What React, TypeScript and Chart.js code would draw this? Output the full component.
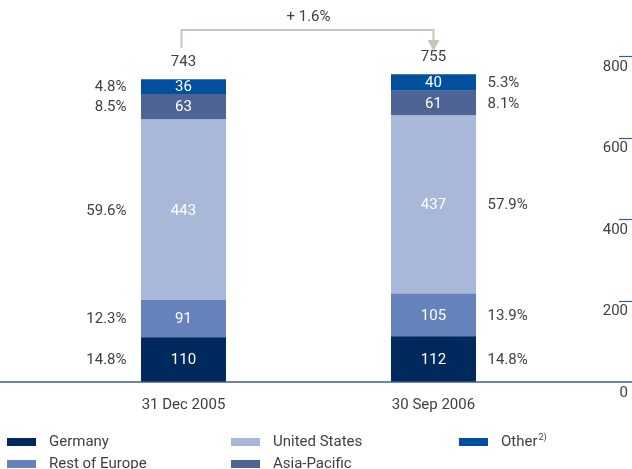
import React, { useEffect, useRef } from "react";
import { Chart, registerables } from "chart.js";

Chart.register(...registerables);

const categories = ["31 Dec 2005", "30 Sep 2006"];
const seriesNames = ["Germany", "Rest of Europe", "United States", "Asia-Pacific", "Other"];
const germany = [110, 112];
const restOfEurope = [91, 105];
const unitedStates = [443, 437];
const asiaPacific = [63, 61];
const other = [36, 40];
const pct2005 = ["14.8%", "12.3%", "59.6%", "8.5%", "4.8%"];
const pct2006 = ["14.8%", "13.9%", "57.9%", "8.1%", "5.3%"];
const totals = [743, 755];
const changeLabel = "+ 1.6%";
const yTicks = [0, 200, 400, 600, 800];

const colors = ["#002a5e", "#6682bb", "#a9b8d9", "#4d6495", "#00509e"];
const FONT = "Roboto, 'Open Sans', sans-serif";
const FS = 15;
const TEXT = "#404040";

export default function App() {
  const ref = useRef<HTMLCanvasElement>(null);
  useEffect(() => {
    document.body.style.margin = "0";
    const values = [germany, restOfEurope, unitedStates, asiaPacific, other];
    const overlay = {
      id: "overlay",
      afterDraw(chart: any) {
        const ctx = chart.ctx;
        const xs = chart.scales.x;
        const ys = chart.scales.y;
        const W = chart.width;
        ctx.save();
        const y0 = ys.getPixelForValue(0);
        ctx.strokeStyle = "#3d5b93";
        ctx.lineWidth = 1.5;
        ctx.beginPath();
        ctx.moveTo(0, y0);
        ctx.lineTo(W, y0);
        ctx.stroke();
        ctx.lineWidth = 1.2;
        yTicks.forEach((t) => {
          if (t === 0) return;
          const y = Math.round(ys.getPixelForValue(t)) + 0.5;
          ctx.beginPath();
          ctx.moveTo(619, y);
          ctx.lineTo(632, y);
          ctx.stroke();
        });
        ctx.font = `${FS}px ${FONT}`;
        ctx.textBaseline = "middle";
        for (let d = 0; d < values.length; d++) {
          const meta = chart.getDatasetMeta(d);
          meta.data.forEach((bar: any, i: number) => {
            const yc = (bar.y + bar.base) / 2;
            ctx.fillStyle = "#ffffff";
            ctx.textAlign = "center";
            ctx.fillText(String(values[d][i]), bar.x, yc + 1);
            ctx.fillStyle = TEXT;
            if (i === 0) {
              ctx.textAlign = "right";
              ctx.fillText(pct2005[d], bar.x - 57, yc + 1);
            } else {
              ctx.textAlign = "left";
              ctx.fillText(pct2006[d], bar.x + 54, yc + 1);
            }
          });
        }
        const x1 = xs.getPixelForValue(0);
        const x2 = xs.getPixelForValue(1);
        ctx.fillStyle = TEXT;
        ctx.textAlign = "center";
        totals.forEach((t, i) => {
          const y = ys.getPixelForValue(t);
          ctx.fillText(String(t), xs.getPixelForValue(i), y - 17);
        });
        ctx.strokeStyle = "#c9c5bd";
        ctx.lineWidth = 2;
        ctx.beginPath();
        ctx.moveTo(x1 - 2, 48);
        ctx.lineTo(x1 - 2, 30);
        ctx.lineTo(x2, 30);
        ctx.lineTo(x2, 42);
        ctx.stroke();
        ctx.fillStyle = "#c9c5bd";
        ctx.beginPath();
        ctx.moveTo(x2 - 6, 40);
        ctx.lineTo(x2 + 6, 40);
        ctx.lineTo(x2, 51);
        ctx.closePath();
        ctx.fill();
        ctx.fillStyle = TEXT;
        ctx.fillText(changeLabel, (x1 + x2) / 2, 17);
        const cols = [7, 231, 459];
        const rows = [442, 464];
        seriesNames.forEach((name, k) => {
          const c = Math.floor(k / 2);
          const r = k % 2;
          ctx.fillStyle = colors[k];
          ctx.fillRect(cols[c], rows[r] - 4, 29, 8);
          ctx.fillStyle = TEXT;
          ctx.textAlign = "left";
          ctx.font = `${FS}px ${FONT}`;
          ctx.fillText(name, cols[c] + 42, rows[r]);
          if (name === "Other") {
            const w = ctx.measureText(name).width;
            ctx.font = `9px ${FONT}`;
            ctx.fillText("2)", cols[c] + 42 + w + 1, rows[r] - 4);
          }
        });
        ctx.restore();
      },
    };
    const chart = new Chart(ref.current!, {
      type: "bar",
      data: {
        labels: categories,
        datasets: seriesNames.map((name, k) => ({
          label: name,
          data: values[k],
          backgroundColor: colors[k],
          borderWidth: 0,
          barPercentage: 0.34,
          categoryPercentage: 1,
        })),
      },
      options: {
        responsive: false,
        animation: false,
        layout: { padding: { left: 58.5, right: 4, top: 56, bottom: 0 } },
        plugins: { legend: { display: false }, tooltip: { enabled: false } },
        scales: {
          x: {
            stacked: true,
            grid: { display: false, drawTicks: false },
            border: { display: false },
            ticks: { font: { size: FS, family: FONT }, color: TEXT, padding: 14 },
            afterFit: (s: any) => {
              s.height = 87;
            },
          },
          y: {
            stacked: true,
            position: "right",
            min: 0,
            max: 800,
            afterBuildTicks: (s: any) => {
              s.ticks = yTicks.map((v) => ({ value: v }));
            },
            grid: { display: false, drawTicks: false },
            border: { display: false },
            ticks: {
              font: { size: FS, family: FONT },
              color: TEXT,
              crossAlign: "far",
              padding: 0,
              labelOffset: 11,
            },
            afterFit: (s: any) => {
              s.width = 69.5;
            },
          },
        },
      },
      plugins: [overlay],
    });
    return () => chart.destroy();
  }, []);
  return (
    <div style={{ width: 632, height: 469 }}>
      <canvas ref={ref} width={632} height={469} style={{ display: "block" }} />
    </div>
  );
}
